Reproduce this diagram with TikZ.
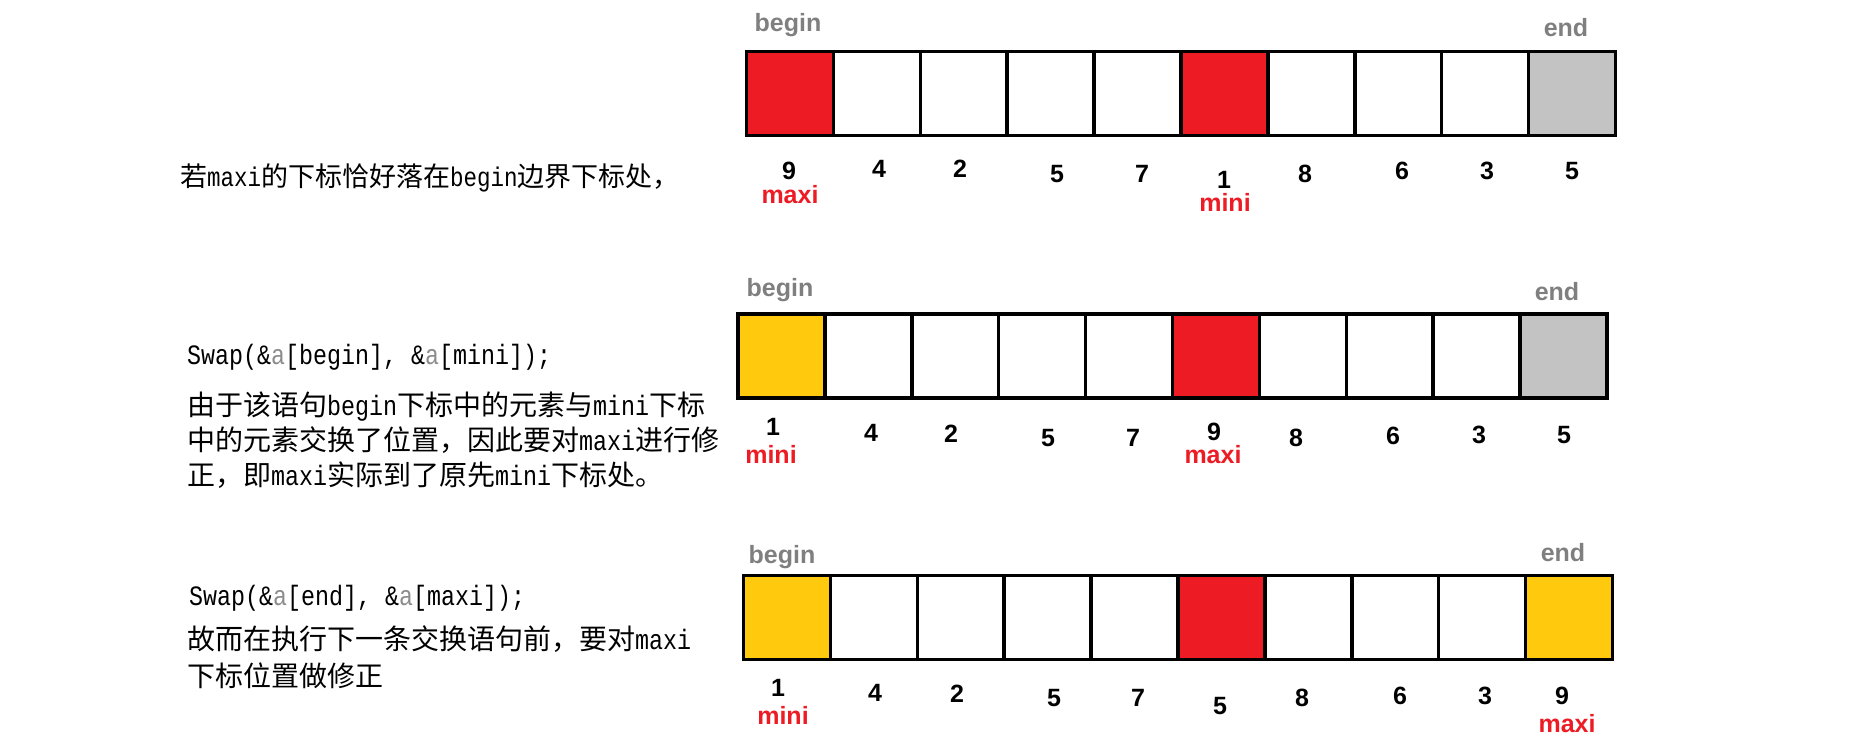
\documentclass[tikz,border=0pt]{standalone}
\usepackage{fontspec}
\setmainfont{Liberation Sans}
\newfontfamily\cjk{Noto Sans CJK SC}
\newfontfamily\latm[FakeStretch=0.8333]{Liberation Mono}
\newcommand\lm[1]{{\latm #1}}
\definecolor{cred}{HTML}{ED1C24}
\definecolor{cyel}{HTML}{FFC90E}
\definecolor{cgray}{HTML}{C3C3C3}
\definecolor{lblgray}{HTML}{7F7F7F}
\definecolor{codegray}{HTML}{8C8C8C}
\newcommand\ga{{\color{codegray}a}}
\begin{document}
\begin{tikzpicture}[x=1pt,y=-1pt,
 cell/.style={draw=black, line width=3.5pt, minimum width=86.9pt, minimum height=84pt, inner sep=0pt},
 num/.style={font=\fontsize{25}{30}\selectfont\bfseries, inner sep=0pt},
 idx/.style={font=\fontsize{25}{30}\selectfont\bfseries, text=cred, inner sep=0pt},
 bnd/.style={font=\fontsize{25}{30}\selectfont\bfseries, text=lblgray, inner sep=0pt},
 txt/.style={font=\cjk\fontsize{28}{35}\selectfont, anchor=west, inner sep=0pt, align=left},
]
\useasboundingbox (0,0) rectangle (1852,745);

% ---- row 1 ----
\foreach \i/\f in {1/cred,2/white,3/white,4/white,5/white,6/cred,7/white,8/white,9/white,10/cgray}
  \node[cell, fill=\f] (a\i) at ({746.5+43.45+86.9*(\i-1)},93.5) {};
\foreach \v/\x/\y [count=\k] in {9/789/171,4/879/169,2/960/169,5/1057/174,7/1142/174,1/1224/180,8/1305/174,6/1402/171,3/1487/171,5/1572/171}
  \node[num] (na\k) at (\x,\y) {\v};
\node[bnd] (beg1) at (788,25) {begin};
\node[bnd] (end1) at (1566,28) {end};
\node[idx] (max1) at (790,195) {maxi};
\node[idx] (min1) at (1225,202) {mini};
\node[txt, font=\cjk\fontsize{27}{34}\selectfont] (t1) at (180,178) {若\lm{maxi}的下标恰好落在\lm{begin}边界下标处，};

% ---- row 2 ----
\foreach \i/\f in {1/cyel,2/white,3/white,4/white,5/white,6/cred,7/white,8/white,9/white,10/cgray}
  \node[cell, fill=\f] (b\i) at ({738+43.45+86.9*(\i-1)},356) {};
\foreach \v/\x/\y [count=\k] in {1/773/427,4/871/433,2/951/434,5/1048/438,7/1133/438,9/1214/432,8/1296/438,6/1393/436,3/1479/435,5/1564/435}
  \node[num] (nb\k) at (\x,\y) {\v};
\node[bnd] (beg2) at (780,290) {begin};
\node[bnd] (end2) at (1557,292) {end};
\node[idx] (min2) at (771,454) {mini};
\node[idx] (max2) at (1213,455) {maxi};
\node[txt] (s2) at (187,357) {\lm{Swap(\&\ga[begin], \&\ga[mini]);}};
\node[txt] (t2) at (187,440) {由于该语句\lm{begin}下标中的元素与\lm{mini}下标\\中的元素交换了位置，因此要对\lm{maxi}进行修\\正，即\lm{maxi}实际到了原先\lm{mini}下标处。};

% ---- row 3 ----
\foreach \i/\f in {1/cyel,2/white,3/white,4/white,5/white,6/cred,7/white,8/white,9/white,10/cyel}
  \node[cell, fill=\f] (c\i) at ({743.5+43.45+86.9*(\i-1)},617.5) {};
\foreach \v/\x/\y [count=\k] in {1/778/688,4/875/693,2/957/694,5/1054/698,7/1138/698,5/1220/706,8/1302/698,6/1400/696,3/1485/696,9/1562/696}
  \node[num] (nc\k) at (\x,\y) {\v};
\node[bnd] (beg3) at (782,557) {begin};
\node[bnd] (end3) at (1563,553) {end};
\node[idx] (min3) at (783,715) {mini};
\node[idx] (max3) at (1567,724) {maxi};
\node[txt] (s3) at (189,598) {\lm{Swap(\&\ga[end], \&\ga[maxi]);}};
\node[txt, font=\cjk\fontsize{28}{37}\selectfont] (t3) at (187,657.5) {故而在执行下一条交换语句前，要对\lm{maxi}\\下标位置做修正};
\end{tikzpicture}
\end{document}
